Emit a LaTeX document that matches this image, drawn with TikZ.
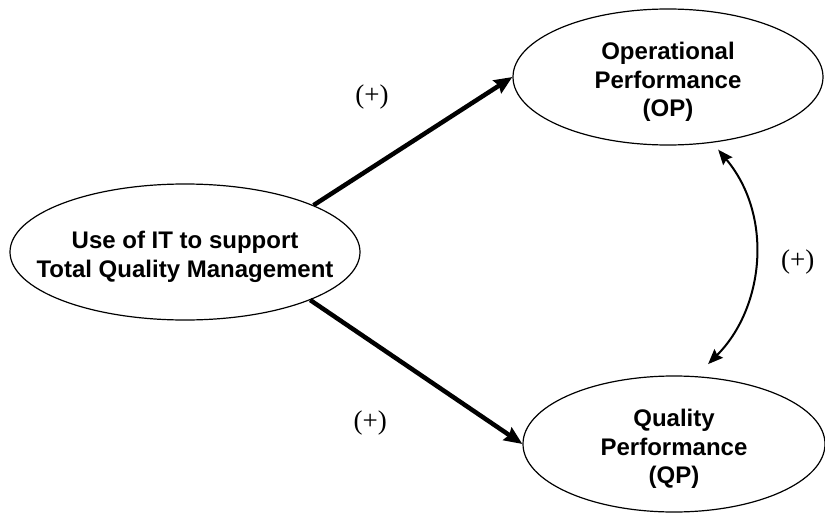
\documentclass[tikz,border=0pt]{standalone}
\usepackage{fontspec}
\setmainfont{Liberation Serif}
\newfontfamily\arialfont{Liberation Sans}
\usetikzlibrary{shapes,arrows.meta,positioning,calc}
\newcommand{\toplift}{\rule{0pt}{27pt}}

\begin{document}
\begin{tikzpicture}[x=1pt, y=1pt,
    construct/.style={ellipse, draw, line width=1.2pt, minimum width=310pt, minimum height=136pt, inner sep=0pt, align=center, font=\arialfont\bfseries\fontsize{24}{28.5}\selectfont},
    effect/.style={-{Stealth[length=18pt, width=15pt, inset=2pt]}, line width=4.5pt},
    corr/.style={{Stealth[length=15pt, width=12pt, inset=2pt]}-{Stealth[length=15pt, width=12pt, inset=2pt]}, line width=2pt},
    sign/.style={font=\fontsize{27}{30}\selectfont},
]
    \useasboundingbox (0,0) rectangle (825,-514);
    \node[construct, minimum width=350pt, inner xsep=-30pt] (tqm) at (185,-252) {\toplift Use of IT to support\\Total Quality Management};
    \node[construct] (op) at (668,-77) {\toplift Operational\\Performance\\(OP)};
    \node[construct, minimum width=302pt] (qp) at (674,-444) {\toplift Quality\\Performance\\(QP)};

    \draw[effect] (tqm.20.6) -- (op.west) node[sign, pos=0.5, xshift=-41pt, yshift=44pt] {(+)};
    \draw[effect] (tqm.-21) -- (qp.west) node[sign, pos=0.5, xshift=-46pt, yshift=-51pt] {(+)};
    \draw[corr, shorten <=17pt, shorten >=9pt] (qp.72) to[out=45, in=-50, looseness=1.05] node[sign, right=24pt] {(+)} (op.-56);
\end{tikzpicture}
\end{document}
